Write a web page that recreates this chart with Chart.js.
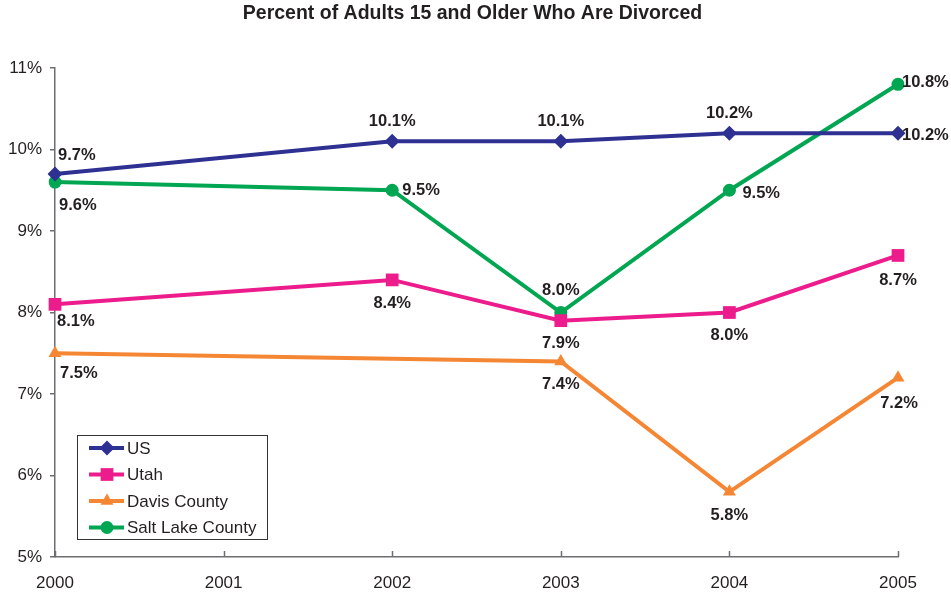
<!DOCTYPE html>
<html>
<head>
<meta charset="utf-8">
<title>Percent of Adults 15 and Older Who Are Divorced</title>
<script src="https://cdn.jsdelivr.net/npm/chart.js@4.4.0/dist/chart.umd.min.js"></script>
<style>
  html, body { margin: 0; padding: 0; background: #fff; overflow: hidden; }
  canvas { display: block; }
</style>
</head>
<body>
<canvas id="divorceChart" width="951" height="594"></canvas>
<script>
// years on the x axis (2001 has no survey value)
const years = ['2000', '2001', '2002', '2003', '2004', '2005'];

// percent divorced, adults 15+
const usValues = [9.7, null, 10.1, 10.1, 10.2, 10.2];
const utahValues = [8.1, null, 8.4, 7.9, 8.0, 8.7];
const davisValues = [7.5, null, null, 7.4, 5.8, 7.2];
const saltLakeValues = [9.6, null, 9.5, 8.0, 9.5, 10.8];

// y axis range in percent
const yMin = 5;
const yMax = 11;
const yStep = 1;

const TITLE = 'Percent of Adults 15 and Older Who Are Divorced';
const FONT = "'Liberation Sans', Arial, sans-serif";
const TEXT = '#231f20';
const AXIS = '#6d6e71';

// where each value label sits relative to its point: [align, dx, dy]
const labelSpots = [
    [['left', 3, -18], null, ['center', 0, -20], ['center', 0, -20], ['center', 0, -20], ['left', 4, 2]],
    [['left', 2, 17], null, ['center', 0, 24], ['center', 0, 23], ['center', 0, 23], ['center', 0, 25]],
    [['left', 5, 20], null, null, ['center', 0, 23], ['center', 0, 24], ['center', 1, 26]],
    [['left', 4, 23], null, ['left', 10, 0], ['center', 0, -22], ['left', 13, 3], ['left', 4, -2]]
];

// title centred on the page, above the plot
const pageTitle = {
    id: 'pageTitle',
    afterDraw(chart) {
        const ctx = chart.ctx;
        ctx.save();
        ctx.font = 'bold 19.5px ' + FONT;
        ctx.fillStyle = TEXT;
        ctx.textAlign = 'center';
        ctx.textBaseline = 'middle';
        ctx.fillText(TITLE, chart.width / 2 - 3, 14);
        ctx.restore();
    }
};

// value labels next to each point
const valueLabels = {
    id: 'valueLabels',
    afterDatasetsDraw(chart) {
        const ctx = chart.ctx;
        ctx.save();
        ctx.font = 'bold 16.5px ' + FONT;
        ctx.fillStyle = TEXT;
        ctx.textBaseline = 'middle';
        chart.data.datasets.forEach((ds, i) => {
            const meta = chart.getDatasetMeta(i);
            ds.data.forEach((v, j) => {
                const spot = labelSpots[i][j];
                if (v === null || !spot) return;
                const pt = meta.data[j];
                ctx.textAlign = spot[0];
                ctx.fillText(v.toFixed(1) + '%', pt.x + spot[1], pt.y + spot[2]);
            });
        });
        ctx.restore();
    }
};

// short tick marks pointing up from the x axis
const innerXTicks = {
    id: 'innerXTicks',
    beforeDatasetsDraw(chart) {
        const ctx = chart.ctx;
        const x = chart.scales.x;
        const bottom = chart.chartArea.bottom;
        ctx.save();
        ctx.strokeStyle = AXIS;
        ctx.lineWidth = 1.5;
        x.ticks.forEach((t, i) => {
            const px = Math.round(x.getPixelForTick(i)) + 0.5;
            ctx.beginPath();
            ctx.moveTo(px, bottom);
            ctx.lineTo(px, bottom - 6);
            ctx.stroke();
        });
        ctx.restore();
    }
};

// boxed legend with a line sample and marker for each series
const boxLegend = {
    id: 'boxLegend',
    afterDraw(chart) {
        const ctx = chart.ctx;
        const area = chart.chartArea;
        const left = area.left + 22;
        const top = area.bottom - 122;
        const w = 190;
        const h = 104;
        ctx.save();
        ctx.fillStyle = '#fff';
        ctx.fillRect(left, top, w, h);
        ctx.strokeStyle = '#333';
        ctx.lineWidth = 1;
        ctx.strokeRect(left + 0.5, top + 0.5, w, h);
        ctx.font = '17px ' + FONT;
        ctx.textBaseline = 'middle';
        ctx.textAlign = 'left';
        chart.data.datasets.forEach((ds, i) => {
            const y = top + 13 + i * 26.5;
            ctx.strokeStyle = ds.borderColor;
            ctx.lineWidth = 4;
            ctx.beginPath();
            ctx.moveTo(left + 12, y);
            ctx.lineTo(left + 47, y);
            ctx.stroke();
            ctx.fillStyle = ds.borderColor;
            Chart.helpers.drawPoint(ctx, {
                pointStyle: ds.pointStyle,
                radius: ds.pointRadius,
                rotation: 0,
                borderWidth: 0
            }, left + 30, y);
            ctx.fillStyle = TEXT;
            ctx.fillText(ds.label, left + 50, y + 1);
        });
        ctx.restore();
    }
};

function series(label, data, color, pointStyle, radius) {
    return {
        label: label,
        data: data,
        borderColor: color,
        backgroundColor: color,
        pointBackgroundColor: color,
        pointBorderColor: color,
        pointBorderWidth: 0,
        borderWidth: 4,
        pointStyle: pointStyle,
        pointRadius: radius,
        spanGaps: true,
        tension: 0
    };
}

new Chart(document.getElementById('divorceChart'), {
    type: 'line',
    data: {
        labels: years,
        datasets: [
            series('US', usValues, '#2e3192', 'rectRot', 7.5),
            series('Utah', utahValues, '#ec1c8c', 'rect', 9),
            series('Davis County', davisValues, '#f58634', 'triangle', 7.5),
            series('Salt Lake County', saltLakeValues, '#00a651', 'circle', 6.5)
        ]
    },
    options: {
        responsive: false,
        animation: false,
        layout: { padding: { left: 0, right: 53, top: 68, bottom: 2 } },
        plugins: {
            legend: { display: false },
            tooltip: { enabled: false },
            title: { display: false }
        },
        scales: {
            x: {
                offset: false,
                afterFit(scale) { scale.height = 35; },
                grid: { display: false, drawTicks: false },
                border: { display: true, color: AXIS, width: 1.5 },
                ticks: {
                    color: TEXT,
                    padding: 16,
                    maxRotation: 0,
                    font: { family: FONT, size: 17 }
                }
            },
            y: {
                min: yMin,
                max: yMax,
                afterFit(scale) { scale.width = 55; },
                grid: {
                    display: true,
                    drawOnChartArea: false,
                    drawTicks: true,
                    tickLength: 5,
                    color: AXIS,
                    lineWidth: 1.5
                },
                border: { display: true, color: AXIS, width: 1.5 },
                ticks: {
                    stepSize: yStep,
                    color: TEXT,
                    padding: 8,
                    font: { family: FONT, size: 17 },
                    callback: v => v + '%'
                }
            }
        }
    },
    plugins: [innerXTicks, valueLabels, boxLegend, pageTitle]
});
</script>
</body>
</html>
